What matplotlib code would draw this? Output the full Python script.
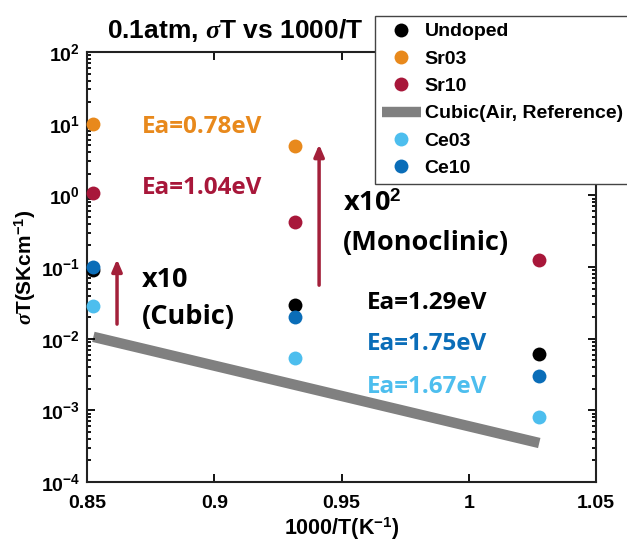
import numpy as np
import matplotlib
matplotlib.use("Agg")
import matplotlib.pyplot as plt

# 1000/T positions of the three measurement temperatures (900, 800, 700 C)
inv_t = [0.8525, 0.9318, 1.0277]

# sigma*T at 0.1 atm for each composition
undoped = [0.091, 0.0295, 0.0062]
sr03 = [9.9, 4.9, None]
sr10 = [1.08, 0.43, 0.126]
ce03 = [0.029, 0.0054, 0.00081]
ce10 = [0.10, 0.020, 0.0030]

# cubic reference line (air)
ref_x = [0.8525, 1.0277]
ref_y = [0.0106, 0.00035]

colors = {
    "Undoped": "#000000",
    "Sr03": "#E8891C",
    "Sr10": "#A8173A",
    "Ce03": "#4DBEEE",
    "Ce10": "#0A6DB8",
}

plt.rcParams["font.family"] = ["Liberation Sans", "DejaVu Sans"]
plt.rcParams["font.weight"] = "bold"
plt.rcParams["mathtext.fontset"] = "custom"
plt.rcParams["mathtext.rm"] = "Liberation Sans:bold"
plt.rcParams["mathtext.it"] = "Liberation Serif:italic"
plt.rcParams["mathtext.bf"] = "Liberation Sans:bold"

fig = plt.figure(figsize=(6.27, 5.42), dpi=100)
ax = fig.add_axes([87 / 627, 60 / 542, 509 / 627, 430 / 542])

ms = 10
h = {}
h["Cubic(Air, Reference)"], = ax.plot(ref_x, ref_y, color="#808080", lw=7.5,
                                      solid_capstyle="butt", zorder=1)


def pts(ys):
    xs = [x for x, y in zip(inv_t, ys) if y is not None]
    vs = [y for y in ys if y is not None]
    return xs, vs


for name, ys in [("Undoped", undoped), ("Ce10", ce10), ("Sr03", sr03),
                 ("Sr10", sr10), ("Ce03", ce03)]:
    xs, vs = pts(ys)
    h[name], = ax.plot(xs, vs, "o", ms=ms, color=colors[name], mec="none",
                       label=name, zorder=3, clip_on=False)

ax.set_yscale("log")
ax.set_xlim(0.85, 1.05)
ax.set_ylim(1e-4, 1e2)
ax.set_xticks([0.85, 0.9, 0.95, 1.0, 1.05])
ax.set_xticklabels(["0.85", "0.9", "0.95", "1", "1.05"])
ax.tick_params(which="both", direction="in", top=True, right=True,
               labelsize=14, width=1.3)
ax.tick_params(axis="x", pad=9)
ax.tick_params(axis="y", pad=5)
ax.tick_params(which="major", length=6)
ax.tick_params(which="minor", length=3)
ax.xaxis.set_minor_locator(matplotlib.ticker.NullLocator())
for s in ax.spines.values():
    s.set_linewidth(1.5)
    s.set_color("#222222")

ax.set_xlabel(r"1000/T(K$^{\mathbf{-1}}$)", fontsize=15.5, fontweight="bold",
              labelpad=3)
ax.set_ylabel(r"$\mathit{\sigma}$T(SKcm$^{\mathbf{-1}}$)", fontsize=15,
              fontweight="bold", labelpad=2)

# arrows showing the conductivity gain over the reference
arrow_c = "#A3203A"
ax.annotate("", xy=(0.8618, 0.14), xytext=(0.8618, 0.0146),
            arrowprops=dict(arrowstyle="-|>,head_length=0.7,head_width=0.3",
                            color=arrow_c, lw=2.5))
ax.annotate("", xy=(0.9412, 5.6), xytext=(0.9412, 0.051),
            arrowprops=dict(arrowstyle="-|>,head_length=0.7,head_width=0.3",
                            color=arrow_c, lw=2.5))

lab_font = dict(family=["Open Sans", "DejaVu Sans"], fontweight="bold")
ea_size = 17.5
ax.text(0.8715, 9.0, "Ea=0.78eV", color=colors["Sr03"], fontsize=ea_size,
        va="center", **lab_font)
ax.text(0.8715, 1.25, "Ea=1.04eV", color=colors["Sr10"], fontsize=ea_size,
        va="center", **lab_font)
ax.text(0.960, 0.031, "Ea=1.29eV", color=colors["Undoped"], fontsize=ea_size,
        va="center", **lab_font)
ax.text(0.960, 0.0085, "Ea=1.75eV", color=colors["Ce10"], fontsize=ea_size,
        va="center", **lab_font)
ax.text(0.960, 0.0021, "Ea=1.67eV", color=colors["Ce03"], fontsize=ea_size,
        va="center", **lab_font)

big_font = dict(family=["Open Sans", "DejaVu Sans"], fontweight="bold",
                fontsize=19.5, va="center", color="black")
ax.text(0.8715, 0.066, "x10", **big_font)
ax.text(0.8715, 0.020, "(Cubic)", **big_font)
ax.text(0.9506, 0.75, r"x10$^{\mathbf{2}}$", **big_font)
ax.text(0.9506, 0.215, "(Monoclinic)", **big_font)

fig.text(235 / 627, 1 - 31 / 542, r"0.1atm, $\mathit{\sigma}$T vs 1000/T",
         fontsize=19, fontweight="bold", ha="center", va="center")

order = ["Undoped", "Sr03", "Sr10", "Cubic(Air, Reference)", "Ce03", "Ce10"]
leg = fig.legend([h[k] for k in order], order, loc="upper left",
                 bbox_to_anchor=(375 / 627, 1 - 16 / 542),
                 fontsize=14, frameon=True, fancybox=False,
                 handlelength=2.0, handletextpad=0.2, borderpad=0.35,
                 labelspacing=0.5, borderaxespad=0, markerscale=1.0,
                 framealpha=1)
leg.get_frame().set_edgecolor("#444444")
leg.get_frame().set_linewidth(1.0)
leg.set_zorder(10)

fig.savefig("out.png", dpi=100)
